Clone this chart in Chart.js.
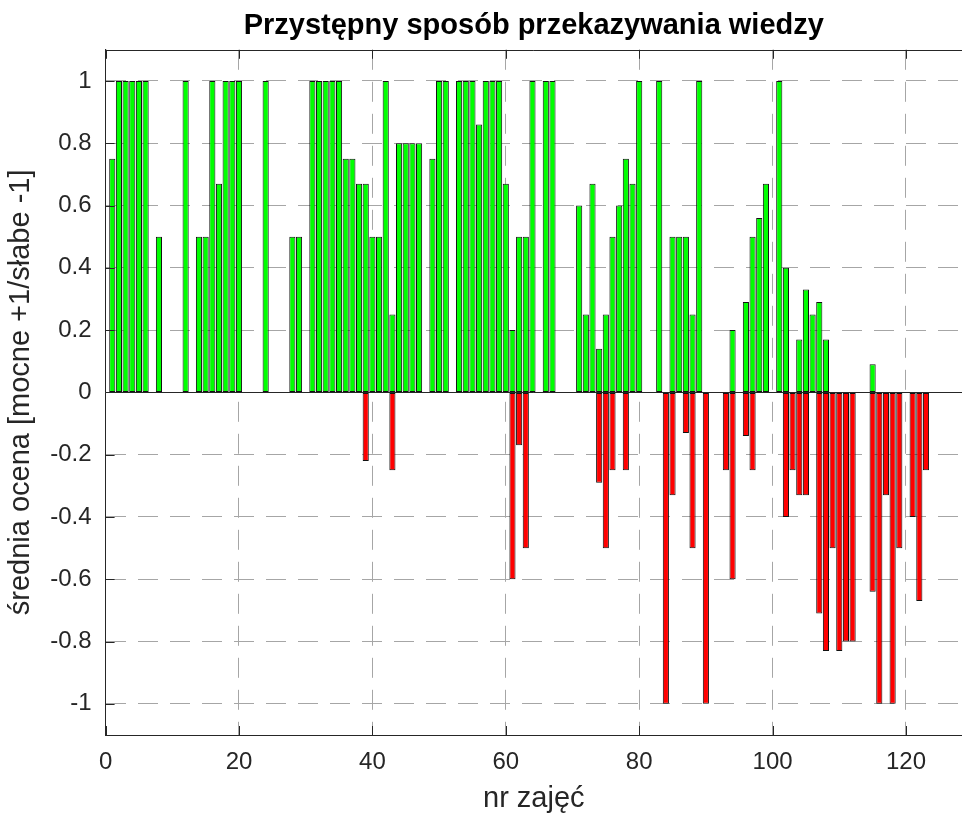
<!DOCTYPE html>
<html>
<head>
<meta charset="utf-8">
<script src="https://cdn.jsdelivr.net/npm/chart.js@4/dist/chart.umd.min.js"></script>
<style>
  body { margin: 0; background: #fff; }
</style>
</head>
<body>
<canvas id="mychart" width="962" height="816"></canvas>
<script>
// average score per lesson (nr zajęć 1..123), 0 = no bar
const strong = [
    0.75, 1, 1, 1, 1, 1, 0, 0.5, 0, 0,
    0, 1, 0, 0.5, 0.5, 1, 0.67, 1, 1, 1,
    0, 0, 0, 1, 0, 0, 0, 0.5, 0.5, 0,
    1, 1, 1, 1, 1, 0.75, 0.75, 0.67, 0.67, 0.5,
    0.5, 1, 0.25, 0.8, 0.8, 0.8, 0.8, 0, 0.75, 1,
    1, 0, 1, 1, 1, 0.86, 1, 1, 1, 0.67,
    0.2, 0.5, 0.5, 1, 0, 1, 1, 0, 0, 0,
    0.6, 0.25, 0.67, 0.14, 0.25, 0.5, 0.6, 0.75, 0.67, 1,
    0, 0, 1, 0, 0.5, 0.5, 0.5, 0.25, 1, 0,
    0, 0, 0, 0.2, 0, 0.29, 0.5, 0.56, 0.67, 0,
    1, 0.4, 0, 0.17, 0.33, 0.25, 0.29, 0.17, 0, 0,
    0, 0, 0, 0, 0.09, 0, 0, 0, 0, 0,
    0, 0, 0
];
const weak = [
    0, 0, 0, 0, 0, 0, 0, 0, 0, 0,
    0, 0, 0, 0, 0, 0, 0, 0, 0, 0,
    0, 0, 0, 0, 0, 0, 0, 0, 0, 0,
    0, 0, 0, 0, 0, 0, 0, 0, -0.22, 0,
    0, 0, -0.25, 0, 0, 0, 0, 0, 0, 0,
    0, 0, 0, 0, 0, 0, 0, 0, 0, 0,
    -0.6, -0.17, -0.5, 0, 0, 0, 0, 0, 0, 0,
    0, 0, 0, -0.29, -0.5, -0.25, 0, -0.25, 0, 0,
    0, 0, 0, -1, -0.33, 0, -0.13, -0.5, 0, -1,
    0, 0, -0.25, -0.6, 0, -0.14, -0.25, 0, 0, 0,
    0, -0.4, -0.25, -0.33, -0.33, 0, -0.71, -0.83, -0.5, -0.83,
    -0.8, -0.8, 0, 0, -0.64, -1, -0.33, -1, -0.5, 0,
    -0.4, -0.67, -0.25
];
const xTicks = [0, 20, 40, 60, 80, 100, 120];
const yTicks = [-1, -0.8, -0.6, -0.4, -0.2, 0, 0.2, 0.4, 0.6, 0.8, 1];

const font = 'Liberation Sans, Arial, Helvetica, sans-serif';
const axisColor = '#262626';

function toPoints(values) {
    return values
        .map((v, i) => ({ x: i + 1, y: v }))
        .filter(p => p.y !== 0);
}

// box on top + inward ticks + zero base line, like matlab axes
const matlabAxes = {
    id: 'matlabAxes',
    beforeDatasetsDraw(chart) {
        const { ctx, chartArea: a, scales: { y } } = chart;
        const y0 = Math.round(y.getPixelForValue(0)) + 0.5;
        ctx.save();
        ctx.strokeStyle = axisColor;
        ctx.lineWidth = 1;
        ctx.beginPath();
        ctx.moveTo(a.left, y0);
        ctx.lineTo(a.right, y0);
        ctx.stroke();
        ctx.restore();
    },
    afterDraw(chart) {
        const { ctx, chartArea: a, scales: { x, y } } = chart;
        const len = 9;
        ctx.save();
        ctx.strokeStyle = axisColor;
        ctx.lineWidth = 1;
        ctx.beginPath();
        ctx.moveTo(a.left, Math.round(a.top) + 0.5);
        ctx.lineTo(a.right, Math.round(a.top) + 0.5);
        xTicks.forEach(v => {
            const px = Math.round(x.getPixelForValue(v)) + 0.5;
            ctx.moveTo(px, a.bottom);
            ctx.lineTo(px, a.bottom - len);
            ctx.moveTo(px, a.top);
            ctx.lineTo(px, a.top + len);
        });
        yTicks.forEach(v => {
            const py = Math.round(y.getPixelForValue(v)) + 0.5;
            ctx.moveTo(a.left, py);
            ctx.lineTo(a.left + len, py);
        });
        ctx.stroke();
        ctx.restore();
    }
};

const ctx = document.querySelector('#mychart');

new Chart(ctx, {
    type: 'bar',
    data: {
        datasets: [{
            label: 'mocne',
            data: toPoints(strong),
            backgroundColor: '#00ff00'
        }, {
            label: 'słabe',
            data: toPoints(weak),
            backgroundColor: '#ff0000'
        }]
    },
    options: {
        responsive: false,
        animation: false,
        layout: { padding: 0 },
        datasets: {
            bar: {
                grouped: false,
                barPercentage: 0.92,
                categoryPercentage: 1,
                borderWidth: 1,
                borderColor: '#111',
                borderSkipped: false
            }
        },
        plugins: {
            legend: { display: false },
            tooltip: { enabled: false },
            title: {
                display: true,
                fullSize: false,
                text: 'Przystępny sposób przekazywania wiedzy',
                color: '#000',
                font: { family: font, size: 29, weight: 'bold' },
                padding: { top: 9, bottom: 6 }
            }
        },
        scales: {
            x: {
                type: 'linear',
                offset: false,
                min: 0,
                max: 128.4,
                afterBuildTicks: s => { s.ticks = xTicks.map(v => ({ value: v })); },
                afterFit: s => { s.height = 81; },
                grid: { offset: false, color: '#a6a6a6', lineWidth: 1, drawTicks: false },
                border: { display: true, color: axisColor, width: 1, dash: [20, 12] },
                ticks: {
                    color: axisColor,
                    font: { family: font, size: 24 },
                    padding: 13,
                    maxRotation: 0
                },
                title: {
                    display: true,
                    text: 'nr zajęć',
                    color: axisColor,
                    font: { family: font, size: 29 },
                    padding: { top: 0, bottom: 0 }
                }
            },
            y: {
                min: -1.1,
                max: 1.1,
                afterBuildTicks: s => { s.ticks = yTicks.map(v => ({ value: v })); },
                afterFit: s => { s.width = 105.6; },
                grid: { color: '#a6a6a6', lineWidth: 1, drawTicks: false },
                border: { display: true, color: axisColor, width: 1, dash: [20, 12] },
                ticks: {
                    color: axisColor,
                    font: { family: font, size: 24 },
                    padding: 14,
                    callback: v => String(Math.round(v * 10) / 10)
                },
                title: {
                    display: true,
                    text: 'średnia ocena [mocne +1/słabe -1]',
                    color: axisColor,
                    font: { family: font, size: 29 },
                    padding: { top: 4, bottom: 0 }
                }
            }
        }
    },
    plugins: [matlabAxes]
});
</script>
</body>
</html>
